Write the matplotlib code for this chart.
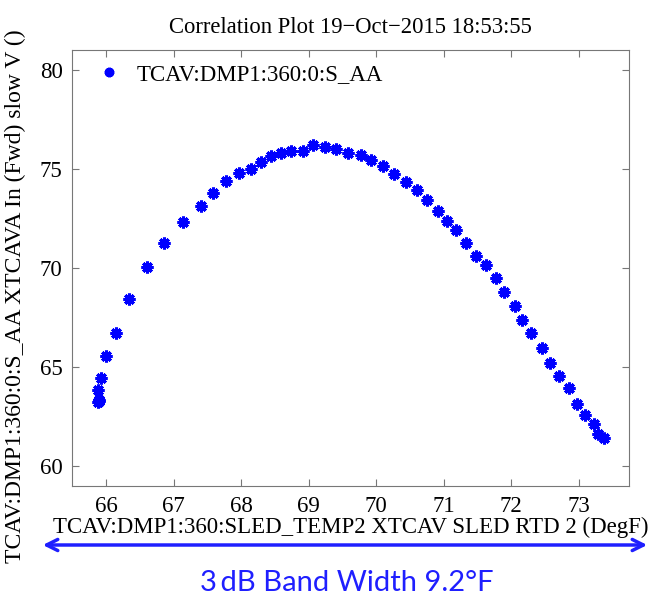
import matplotlib.pyplot as plt
from matplotlib.patches import FancyArrowPatch

temp = [65.88, 65.90, 65.89, 65.88, 65.92, 66.00, 66.15, 66.34, 66.60, 66.86,
        67.14, 67.41, 67.58, 67.78, 67.97, 68.15, 68.29, 68.44, 68.59, 68.74,
        68.91, 69.06, 69.24, 69.41, 69.59, 69.77, 69.93, 70.10, 70.27, 70.44,
        70.61, 70.75, 70.91, 71.05, 71.19, 71.33, 71.48, 71.63, 71.77, 71.90,
        72.05, 72.16, 72.30, 72.45, 72.58, 72.71, 72.85, 72.98, 73.10, 73.23,
        73.29, 73.38]
ampl = [63.25, 63.35, 63.30, 63.82, 64.45, 65.58, 66.71, 68.44, 70.05, 71.25,
        72.31, 73.11, 73.80, 74.41, 74.81, 74.98, 75.34, 75.66, 75.78, 75.92,
        75.92, 76.20, 76.10, 76.02, 75.81, 75.69, 75.46, 75.16, 74.74, 74.36,
        73.93, 73.42, 72.90, 72.37, 71.91, 71.24, 70.63, 70.13, 69.48, 68.77,
        68.10, 67.36, 66.71, 65.97, 65.22, 64.56, 63.96, 63.15, 62.59, 62.11,
        61.64, 61.43]
xticks = [66, 67, 68, 69, 70, 71, 72, 73]
yticks = [60, 65, 70, 75, 80]

serif = "Liberation Serif"
fig = plt.figure(figsize=(6.53, 6.01), dpi=100)
ax = fig.add_axes([0.1107, 0.1913, 0.853, 0.7255])

# matlab style '*' marker: + and x on top of each other
ax.plot(temp, ampl, linestyle="none", marker=(8, 2, 0), color="blue",
        markersize=8.5, markeredgewidth=2.2, label="TCAV:DMP1:360:0:S_AA")

ax.set_xlim(65.5, 73.75)
ax.set_ylim(59, 81)
ax.set_xticks(xticks)
ax.set_yticks(yticks)
ax.tick_params(direction="in", top=True, right=True, length=5, color="#777777",
               labelsize=16.5, pad=7)
for lab in ax.get_xticklabels() + ax.get_yticklabels():
    lab.set_fontfamily(serif)
for s in ax.spines.values():
    s.set_color("#777777")

ax.set_title("Correlation Plot 19\u2212Oct\u22122015 18:53:55", fontfamily=serif,
             fontsize=16.3, pad=12)
ax.set_xlabel("TCAV:DMP1:360:SLED_TEMP2 XTCAV SLED RTD 2 (DegF)", fontfamily=serif,
              fontsize=16.5, labelpad=0)
ax.set_ylabel("TCAV:DMP1:360:0:S_AA XTCAVA In (Fwd) slow V ()", fontfamily=serif,
              fontsize=17)
ax.yaxis.set_label_coords(-0.083, 0.436)

ax.legend(loc="upper left", frameon=False, prop={"family": serif, "size": 16.5},
          handletextpad=0.2, borderaxespad=0.2, markerscale=0.8)

fig.patches.append(FancyArrowPatch(
    (40 / 653, 1 - 545 / 601), (650 / 653, 1 - 545 / 601),
    transform=fig.transFigure, arrowstyle="<->", mutation_scale=20,
    color="#1f1fff", lw=2.5))
fig.text(347 / 653, 1 - 583 / 601, "3\u2009dB Band Width 9.2\u00b0F", ha="center",
         va="center", color="#1f1fff", fontsize=21, fontfamily="Lato")

fig.savefig("out.png", dpi=100)
